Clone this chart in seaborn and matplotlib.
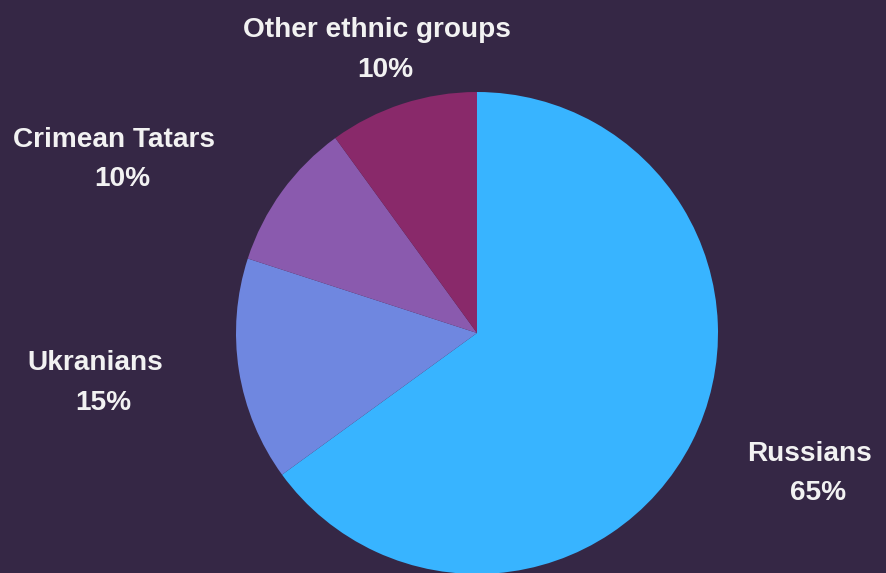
import matplotlib
matplotlib.use("Agg")
import matplotlib.pyplot as plt
import seaborn as sns

categories = ["Russians", "Ukranians", "Crimean Tatars", "Other ethnic groups"]
values = [65, 15, 10, 10]
colors = ["#38B4FF", "#6F87E0", "#8A5AAE", "#89296A"]
pct_labels = ["65%", "15%", "10%", "10%"]

sns.set_theme(style="white")
plt.rcParams['font.family'] = ['Liberation Sans', 'DejaVu Sans']

BG = "#352745"
W, H = 887, 573
fig = plt.figure(figsize=(W / 100, H / 100), dpi=100, facecolor=BG)

# pie axes: centre (477,333) px, radius 241 px
cx, cy, r = 477, 333, 241
ax = fig.add_axes([(cx - r) / W, (H - cy - r) / H, 2 * r / W, 2 * r / H])
ax.set_facecolor(BG)
ax.pie(values, colors=sns.color_palette(colors), startangle=90, counterclock=False,
       radius=1, wedgeprops=dict(linewidth=0))
ax.set_xlim(-1, 1)
ax.set_ylim(-1, 1)
ax.set_aspect("equal")
ax.axis("off")

# label positions in pixels (name centre x, first line y, pct centre x, second line y)
label_pos = [(810, 454, 818, 493), (95, 363, 103, 403), (114, 140, 122, 179), (377, 30, 385, 70)]
for cat, pct, (x1, y1, x2, y2) in zip(categories, pct_labels, label_pos):
    for txt, x, y in ((cat, x1, y1), (pct, x2, y2)):
        fig.text(x / W, 1 - y / H, txt, ha="center", va="center", fontsize=20.2,
                 fontweight="bold", color="#F2F2F2")

fig.savefig("out.png", dpi=100, facecolor=BG)
